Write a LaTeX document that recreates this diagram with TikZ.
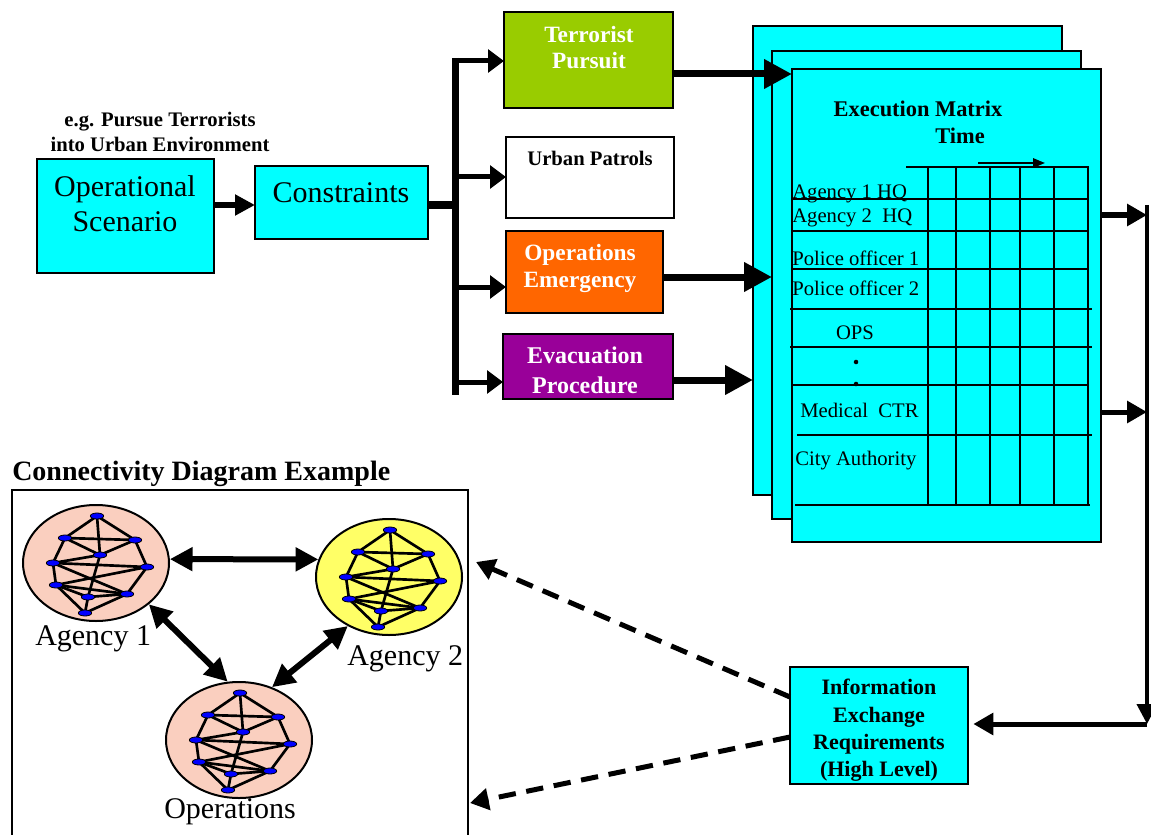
\documentclass[tikz,border=0pt]{standalone}
\usepackage{fontspec}
\setmainfont{Liberation Serif}
\usetikzlibrary{arrows.meta,fit,shapes.geometric}
\definecolor{cyanfill}{RGB}{0,255,255}
\definecolor{greenfill}{RGB}{153,204,0}
\definecolor{orangefill}{RGB}{255,102,0}
\definecolor{purplefill}{RGB}{153,0,153}
\definecolor{pinkfill}{RGB}{250,207,191}
\definecolor{yellowfill}{RGB}{255,255,102}
\definecolor{nodeblue}{RGB}{0,0,255}
\newcommand{\fsz}[1]{\fontsize{#1pt}{#1pt}\selectfont}
\tikzset{
  box/.style={draw=black,line width=1.5pt,inner sep=0pt,outer sep=0pt},
  txt/.style={inner sep=0pt,anchor=base},
  lbl/.style={inner sep=0pt,anchor=base west,font=\fsz{15.5}},
  grid/.style={line width=1.5pt},
  ell/.style={ellipse,draw=black,line width=1.5pt,minimum width=109.5pt,minimum height=87pt,inner sep=0pt},
  vnode/.style={ellipse,fill=nodeblue,draw=black,line width=0.6pt,minimum width=10pt,minimum height=4.5pt,inner sep=0pt},
  netedge/.style={line width=2pt},
  flowarr/.style={line width=5pt,-{Triangle[length=15pt,width=15pt]}},
  brarr/.style={line width=3.75pt,-{Triangle[length=12pt,width=17pt]}},
  marr/.style={line width=5.25pt,-{Triangle[length=21pt,width=21pt]}},
  rarr/.style={line width=3.75pt,-{Triangle[length=15pt,width=16pt]}},
  dasharr/.style={line width=3.75pt,dash pattern=on 13pt off 8pt,-{Triangle[length=14pt,width=16pt]}},
  biarr/.style={line width=4.5pt,{Triangle[length=17pt,width=17pt]}-{Triangle[length=17pt,width=17pt]}},
  net/.pic={
    \foreach \i/\px/\py in {1/1/-47,2/-31/-25,3/39/-23,4/4/-8,5/-43/0,6/51/4,7/-40/22,8/-8/34,9/31/31,10/-11/50}
      \coordinate (-c\i) at (\px,\py);
    \foreach \a/\b in {1/2,1/3,1/4,2/3,2/4,2/5,3/4,3/6,4/5,4/8,5/6,5/7,5/9,6/7,6/9,7/8,7/9,7/10,8/9,8/10,9/10}
      \draw[netedge] (-c\a) -- (-c\b);
    \foreach \i in {1,...,10}
      \node[vnode] (-n\i) at (-c\i) {};
  }
}
\begin{document}
\begin{tikzpicture}[x=0.75pt,y=-0.75pt]
\useasboundingbox (0,0) rectangle (1151,834);

% ---------- top left ----------
\node[txt,font=\bfseries\fsz{15.5}] (eg1) at (160,127) {e.g. Pursue Terrorists};
\node[txt,font=\bfseries\fsz{15.5}] (eg2) at (160,152) {into Urban Environment};

\node[box,fill=cyanfill,fit={(37,159)(214,273)}] (os) {};
\node[txt,font=\fsz{22.5}] (os1) at (125,196) {Operational};
\node[txt,font=\fsz{22.5}] (os2) at (125,231) {Scenario};

\node[box,fill=cyanfill,fit={(255,166)(428,239)}] (cons) {};
\node[txt,font=\fsz{22.5}] (cons1) at (341,203) {Constraints};

% ---------- mission boxes ----------
\node[box,fill=greenfill,fit={(504,12)(673,108)}] (tp) {};
\node[txt,font=\bfseries\fsz{17.5},text=white] (tp1) at (589,43) {Terrorist};
\node[txt,font=\bfseries\fsz{17.5},text=white] (tp2) at (589,69) {Pursuit};

\node[box,fill=white,fit={(506,137)(674,218)}] (up) {};
\node[txt,font=\bfseries\fsz{15.5}] (up1) at (590,166) {Urban Patrols};

\node[box,fill=orangefill,fit={(506,231)(663,313)}] (oe) {};
\node[txt,font=\bfseries\fsz{17.5},text=white] (oe1) at (580,260) {Operations};
\node[txt,font=\bfseries\fsz{17.5},text=white] (oe2) at (580,287) {Emergency};

\node[box,fill=purplefill,fit={(503,334)(673,399)}] (ev) {};
\node[txt,font=\bfseries\fsz{18},text=white] (ev1) at (585,363) {Evacuation};
\node[txt,font=\bfseries\fsz{18},text=white] (ev2) at (585,393) {Procedure};

% ---------- connectors top ----------
\draw[flowarr] (os.east |- 0,205) -- (cons.west |- 0,205);
\coordinate (bt) at (455,58);
\coordinate (bb) at (455,395);
\draw[line width=5.25pt] (bt) -- (bb);
\draw[line width=6pt] (cons.east |- 0,205) -- (bt |- 0,205);
\draw[brarr] (bt |- 0,61) -- (tp.west |- 0,61);
\draw[brarr] (bt |- 0,177) -- (up.west |- 0,177);
\draw[brarr] (bt |- 0,287) -- (oe.west |- 0,287);
\draw[brarr] (bt |- 0,382) -- (ev.west |- 0,382);

% ---------- execution matrix sheets ----------
\node[box,fill=cyanfill,fit={(753,26)(1062,495)}] (bsh) {};
\node[box,fill=cyanfill,fit={(772,51)(1081,519)}] (msh) {};
\node[box,fill=cyanfill,fit={(792,69)(1101,542)}] (fsh) {};

\node[txt,font=\bfseries\fsz{16.8}] (em1) at (918,117) {Execution Matrix};
\node[txt,font=\bfseries\fsz{16.8}] (em2) at (960,144) {Time};

\coordinate (ta) at (978,163);
\coordinate (tb) at (1045,163);
\draw[line width=1.5pt,-{Triangle[length=9pt,width=7pt]}] (ta) -- (tb);

\draw[grid] (906,167) -- (1089,167);
\foreach \x in {928,956,990,1020,1054,1088}
  \draw[grid] (\x,167) -- (\x,505);
\draw[grid] (792,199) -- (1089,199);
\draw[grid] (792,231) -- (1088,231);
\draw[grid] (792,269) -- (1088,269);
\draw[grid] (790,309) -- (1092,309);
\draw[grid] (790,347) -- (1092,347);
\draw[grid] (792,385) -- (1088,385);
\draw[grid] (797,435) -- (1092,435);
\draw[grid] (795,505) -- (1090,505);

\node[lbl] (r1) at (792,199) {Agency 1 HQ};
\node[lbl] (r2) at (792,223) {Agency 2\ \ HQ};
\node[lbl] (r3) at (792,265) {Police officer 1};
\node[lbl] (r4) at (792,295) {Police officer 2};
\node[txt,font=\fsz{15.5}] (r5) at (855,339) {OPS};
\fill (856,362) circle[radius=1.7pt];
\fill (856,384) circle[radius=1.7pt];
\node[lbl] (r6) at (800,417) {Medical\ \ CTR};
\node[lbl] (r7) at (795,465) {City Authority};

% arrows into matrix
\draw[marr] (tp.east |- 0,74) -- (fsh.west |- 0,74);
\draw[marr] (oe.east |- 0,277) -- (msh.west |- 0,277);
\draw[marr] (ev.east |- 0,380) -- (bsh.west |- 0,380);

% ---------- right side feedback ----------
\node[box,fill=cyanfill,fit={(790,667)(968,784)}] (info) {};
\node[txt,font=\bfseries\fsz{16.5}] (in1) at (879,694) {Information};
\node[txt,font=\bfseries\fsz{16.5}] (in2) at (879,722) {Exchange};
\node[txt,font=\bfseries\fsz{16.5}] (in3) at (879,749) {Requirements};
\node[txt,font=\bfseries\fsz{16.5}] (in4) at (879,776) {(High Level)};

\coordinate (v0) at (1147,205);
\coordinate (v1) at (1147,215);
\coordinate (v2) at (1147,412);
\coordinate (v3) at (1147,724);
\draw[rarr] (fsh.east |- v1) -- (v1);
\draw[rarr] (fsh.east |- v2) -- (v2);
\draw[line width=3pt,-{Triangle[length=15pt,width=15pt]}] (v0) -- (v3);
\draw[rarr,shorten >=4pt] (v3) -- (info.east |- v3);

% ---------- connectivity diagram ----------
\node[inner sep=0pt,anchor=base west,font=\bfseries\fsz{21}] (title) at (12,480) {Connectivity Diagram Example};
\draw[line width=1.2pt] (12,840) |- (468,490) -- (468,840);

\node[ell,fill=pinkfill] (ag1) at (96,563) {};
\node[ell,fill=yellowfill] (ag2) at (389,577) {};
\node[ell,fill=pinkfill] (ops) at (239,740) {};
\pic (g1) at (96,563) {net};
\pic (g2) at (389,577) {net};
\pic (g3) at (239,740) {net};

\draw[biarr] (ag1.3) -- (ag2.166);
\draw[biarr] (ag1.-38) -- (ops.101);
\draw[biarr] (ag2.-130) -- (ops.58);

\node[inner sep=0pt,anchor=base west,font=\fsz{22.5}] (la1) at (35,645) {Agency 1};
\node[inner sep=0pt,anchor=base west,font=\fsz{22.5}] (la2) at (347,665) {Agency 2};
\node[inner sep=0pt,anchor=base west,font=\fsz{22.5}] (la3) at (164,818) {Operations};

\coordinate (d1) at (476,562);
\coordinate (d2) at (470,803);
\draw[dasharr] (info.west |- 0,697) -- (d1);
\draw[dasharr] (info.west |- 0,737) -- (d2);
\end{tikzpicture}
\end{document}
